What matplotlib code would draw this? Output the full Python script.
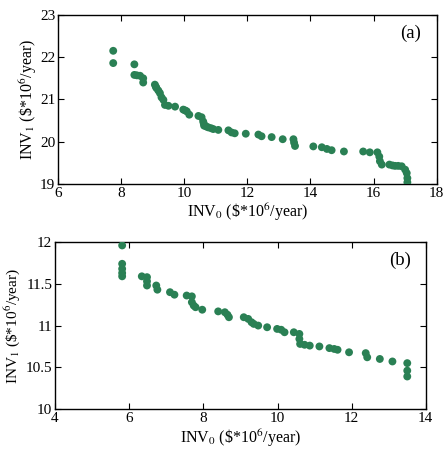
import numpy as np
import matplotlib
matplotlib.use("Agg")
from matplotlib import pyplot as plt

plt.rcParams['font.family'] = ['Liberation Serif', 'DejaVu Serif']
plt.rcParams['mathtext.fontset'] = 'stix'

# panel (a)
inv0_a = [7.75, 7.75, 8.42, 8.42, 8.5, 8.6, 8.7, 8.7, 9.07, 9.1, 9.12, 9.18, 9.23, 9.28, 9.34, 9.39,
          9.5, 9.71, 9.97, 10.03, 10.08, 10.16, 10.45, 10.55, 10.6, 10.62, 10.63, 10.7, 10.76, 10.85,
          10.92, 11.08, 11.4, 11.5, 11.6, 11.95, 12.35, 12.45, 12.77, 13.12, 13.46, 13.48, 13.51,
          14.09, 14.36, 14.52, 14.67, 15.06, 15.67, 15.88, 16.12, 16.18, 16.2, 16.26, 16.5, 16.6,
          16.68, 16.78, 16.89, 17.0, 17.05, 17.07, 17.07]
inv1_a = [22.15, 21.86, 21.83, 21.58, 21.57, 21.56, 21.5, 21.4, 21.35, 21.3, 21.27, 21.21, 21.15,
          21.05, 20.99, 20.87, 20.85, 20.83, 20.76, 20.74, 20.72, 20.64, 20.61, 20.58, 20.48, 20.43,
          20.38, 20.36, 20.34, 20.32, 20.3, 20.28, 20.27, 20.22, 20.2, 20.19, 20.17, 20.13, 20.11,
          20.06, 20.06, 19.98, 19.9, 19.89, 19.87, 19.83, 19.8, 19.77, 19.77, 19.75, 19.75, 19.65,
          19.54, 19.46, 19.46, 19.44, 19.43, 19.43, 19.42, 19.34, 19.26, 19.14, 19.04]

# panel (b)
inv0_b = [5.81, 5.81, 5.81, 5.81, 5.81, 6.34, 6.48, 6.48, 6.48, 6.73, 6.76, 7.1, 7.22, 7.55, 7.69,
          7.69, 7.74, 7.79, 7.97, 8.4, 8.58, 8.65, 8.69, 9.09, 9.21, 9.3, 9.36, 9.48, 9.72, 9.99,
          10.1, 10.19, 10.44, 10.59, 10.59, 10.61, 10.73, 10.87, 11.13, 11.4, 11.53, 11.62, 11.93,
          12.38, 12.42, 12.76, 13.1, 13.5, 13.5, 13.5]
inv1_b = [11.96, 11.74, 11.68, 11.63, 11.59, 11.59, 11.58, 11.53, 11.48, 11.48, 11.43, 11.4, 11.37,
          11.36, 11.35, 11.28, 11.24, 11.22, 11.19, 11.17, 11.16, 11.13, 11.1, 11.1, 11.08, 11.04,
          11.02, 11.0, 10.98, 10.96, 10.95, 10.92, 10.92, 10.9, 10.84, 10.78, 10.77, 10.76, 10.75,
          10.73, 10.72, 10.71, 10.68, 10.67, 10.62, 10.6, 10.57, 10.55, 10.46, 10.39]

green = '#2a8054'
xlab = r'INV$_0$ (\$*10$^6$/year)'
ylab = r'INV$_1$ (\$*10$^6$/year)'

fig = plt.figure(figsize=(4.44, 4.5), dpi=100)
ax1 = fig.add_axes([0.1306, 0.591, 0.853, 0.376])
ax2 = fig.add_axes([0.124, 0.091, 0.835, 0.371])

ax1.scatter(inv0_a, inv1_a, s=32, color=green, edgecolors='none', zorder=3)
ax1.set_xlim(6, 18)
ax1.set_ylim(19, 23)
ax1.set_xticks(np.arange(6, 19, 2))
ax1.set_yticks(np.arange(19, 24, 1))
ax1.set_xlabel(xlab, fontsize=11.5, labelpad=1)
ax1.set_ylabel(ylab, fontsize=11.5, labelpad=1)
ax1.text(0.93, 0.89, '(a)', transform=ax1.transAxes, ha='center', va='center', fontsize=13.5)

ax2.scatter(inv0_b, inv1_b, s=32, color=green, edgecolors='none', zorder=3)
ax2.set_xlim(4, 14)
ax2.set_ylim(10, 12)
ax2.set_xticks(np.arange(4, 15, 2))
ax2.set_yticks([10, 10.5, 11, 11.5, 12])
ax2.set_yticklabels(['10', '10.5', '11', '11.5', '12'])
ax2.set_xlabel(xlab, fontsize=11.5, labelpad=2)
ax2.set_ylabel(ylab, fontsize=11)
ax2.yaxis.set_label_coords(-0.088, 0.5)
ax2.text(0.93, 0.89, '(b)', transform=ax2.transAxes, ha='center', va='center', fontsize=13.5)

for ax in (ax1, ax2):
    ax.tick_params(direction='in', top=True, right=True, labelsize=11, length=4, width=0.8, pad=2)
    for sp in ax.spines.values():
        sp.set_linewidth(1.0)

fig.savefig('out.png', dpi=100)
